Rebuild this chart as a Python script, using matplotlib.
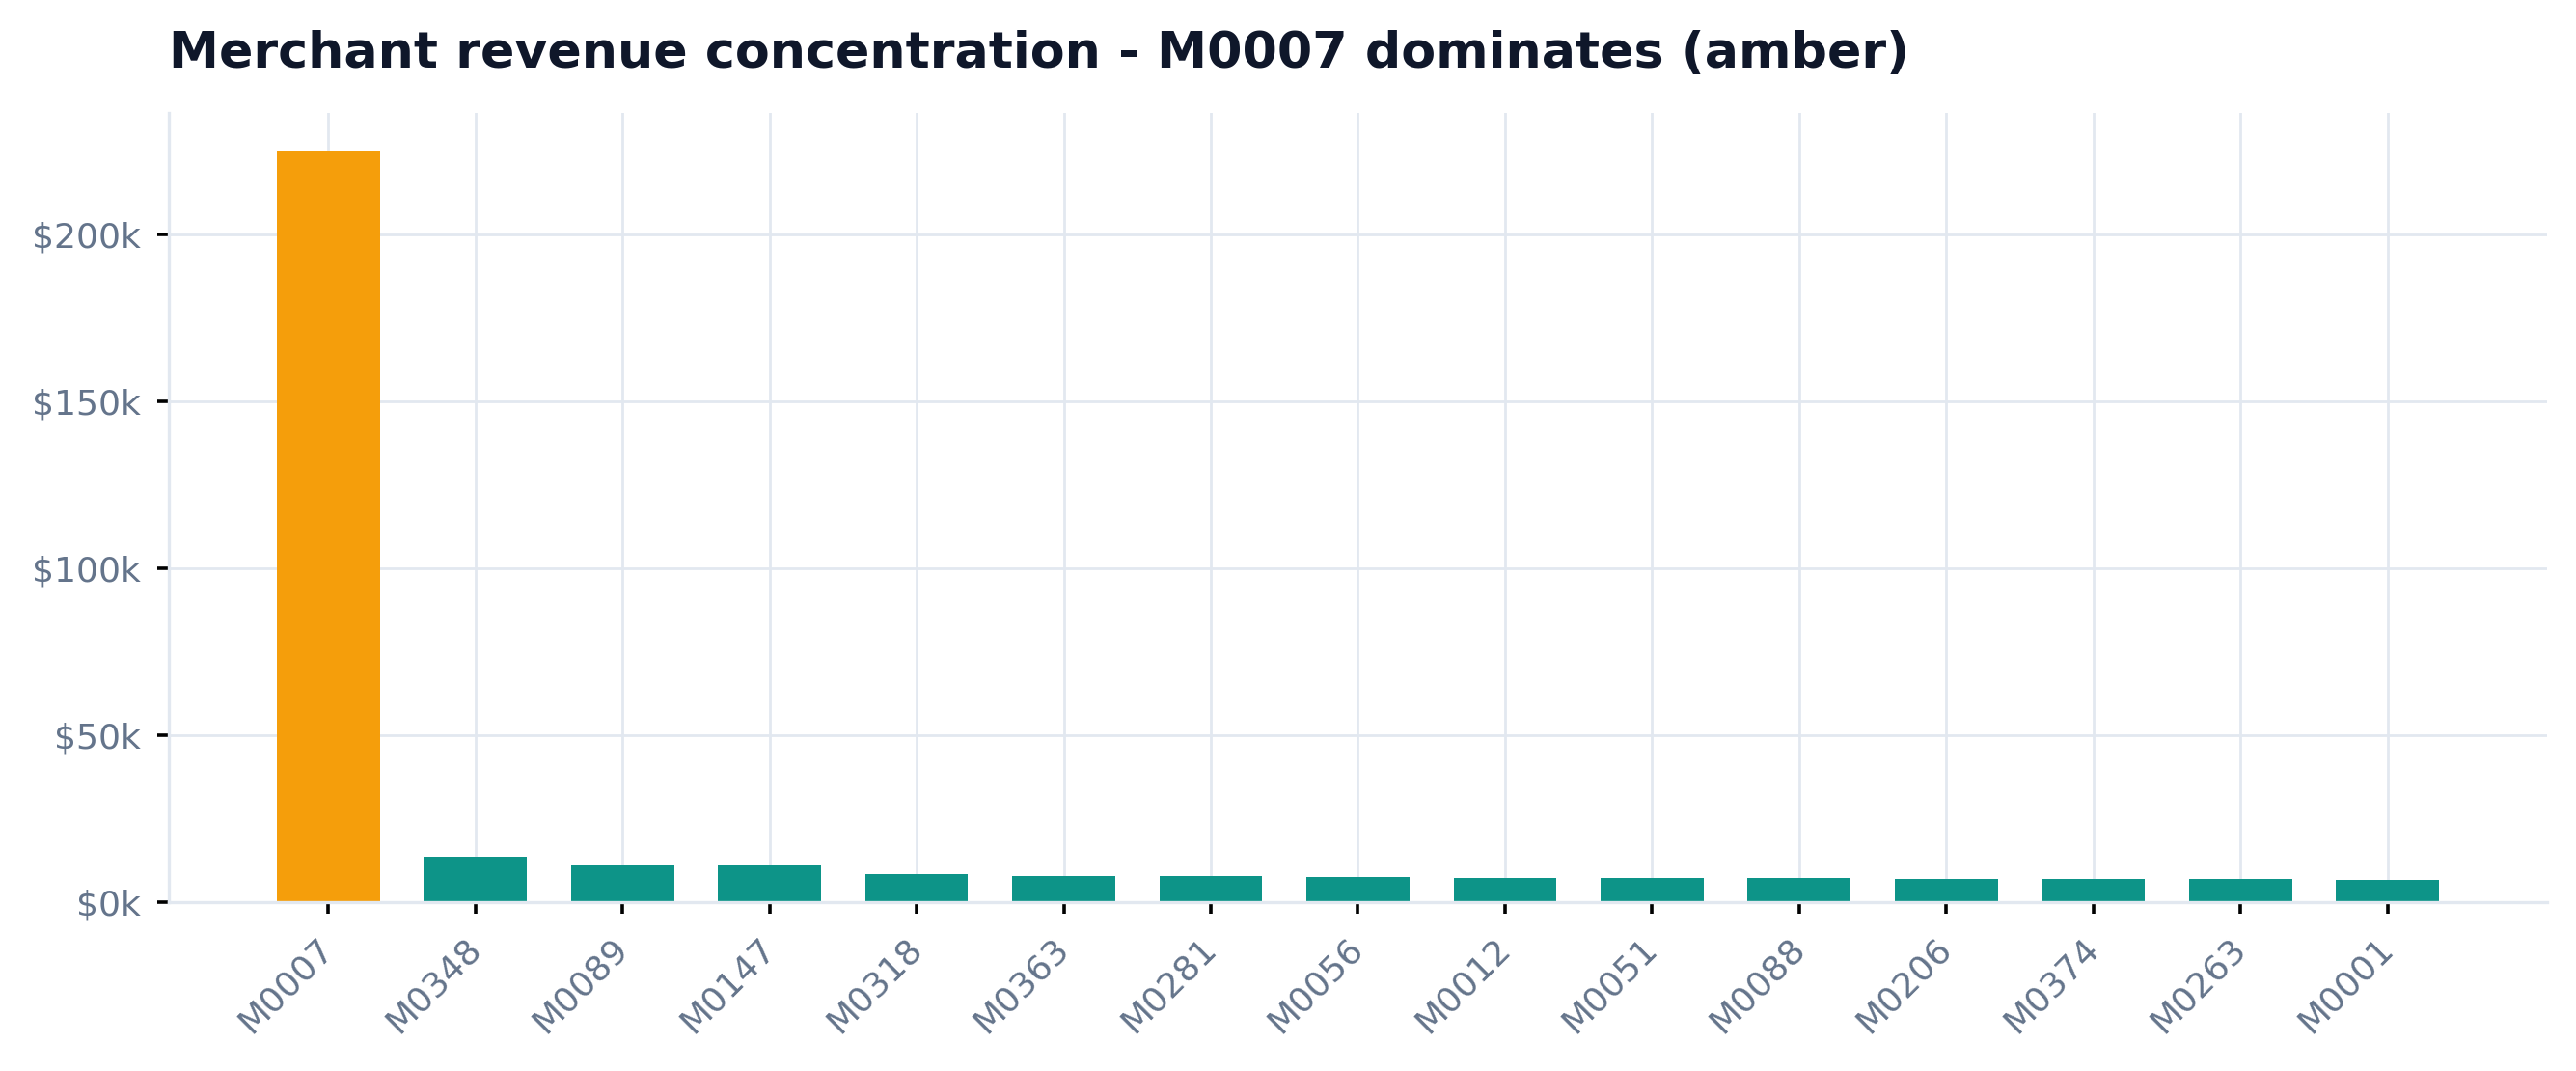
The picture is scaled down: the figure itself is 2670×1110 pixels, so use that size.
import matplotlib
matplotlib.use("Agg")
import matplotlib.pyplot as plt
from matplotlib.ticker import FuncFormatter

# merchants sorted by revenue (in dollars)
merchants = ["M0007", "M0348", "M0089", "M0147", "M0318", "M0363", "M0281", "M0056",
             "M0012", "M0051", "M0088", "M0206", "M0374", "M0263", "M0001"]
revenue = [225200, 13700, 11300, 11300, 8400, 7800, 7800, 7500,
           7200, 7200, 7200, 6900, 6900, 6900, 6600]
top_merchant = "M0007"

AMBER = "#f59e0b"
TEAL = "#0d9488"
GRID = "#e2e8f0"
MUTED = "#64748b"
DARK = "#0f172a"

colors = [AMBER if m == top_merchant else TEAL for m in merchants]

fig = plt.figure(figsize=(13.35, 5.55), dpi=200)
ax = fig.add_axes([0.0655, 0.1577, 0.9233, 0.7369])

x = range(len(merchants))
ax.bar(x, revenue, width=0.7, color=colors)

ax.set_xticks(list(x))
ax.set_xticklabels(merchants, rotation=45, ha="right", va="center",
                   rotation_mode="anchor")
ax.yaxis.set_major_formatter(FuncFormatter(lambda v, p: f"${v/1000:.0f}k"))

ax.grid(True, color=GRID, linewidth=1.0)
ax.set_axisbelow(True)
for side in ["top", "right"]:
    ax.spines[side].set_visible(False)
for side in ["left", "bottom"]:
    ax.spines[side].set_color(GRID)
    ax.spines[side].set_linewidth(1.2)

ax.tick_params(axis="both", colors="black", labelcolor=MUTED, labelsize=13,
               length=4.4, width=1.3)
ax.tick_params(axis="y", pad=6)
ax.tick_params(axis="x", pad=11)

ax.set_title("Merchant revenue concentration - M0007 dominates (amber)",
             loc="left", fontsize=18.8, fontweight="bold", color=DARK, pad=17)

fig.savefig("out.png", dpi=200, facecolor="white")
